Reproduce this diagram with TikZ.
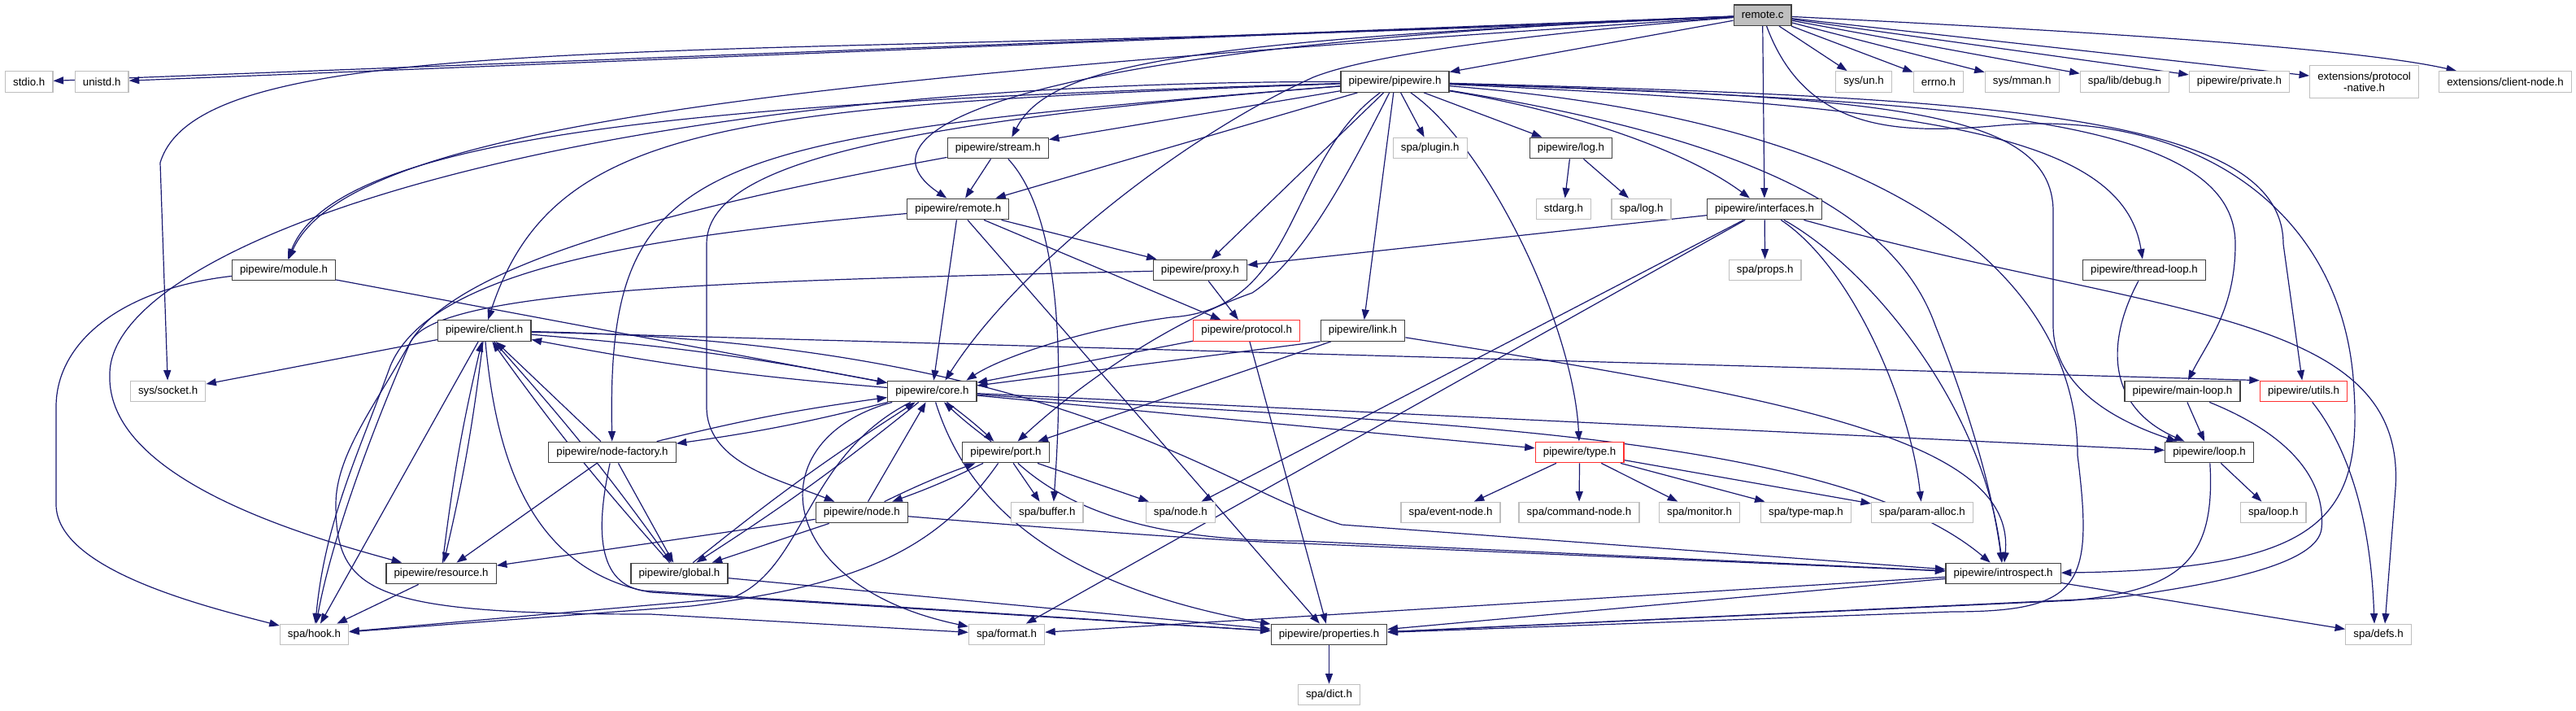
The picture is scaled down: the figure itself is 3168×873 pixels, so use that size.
\documentclass[tikz,border=0pt]{standalone}
\usepackage{fontspec}
\setmainfont{Liberation Sans}
\usetikzlibrary{arrows.meta}
\definecolor{edgeblue}{HTML}{191970}
\definecolor{docgray}{HTML}{404040}
\definecolor{extgray}{HTML}{BFBFBF}
\definecolor{redb}{HTML}{FF3030}
\definecolor{rootfill}{HTML}{BFBFBF}
\pgfdeclarelayer{background}
\pgfsetlayers{background,main}
\tikzset{
  nbase/.style={rectangle, font=\fontsize{13.3pt}{14.5pt}\selectfont, inner xsep=9.6pt, inner ysep=0pt, minimum height=25.6pt, fill=white, line width=1.25pt},
  doc/.style={nbase, draw=docgray},
  ext/.style={nbase, draw=extgray},
  trunc/.style={nbase, draw=redb},
  dep/.style={draw=edgeblue, line width=1.2pt, -{Triangle[length=12.5pt,width=9pt]}},
}
\begin{document}
\begin{tikzpicture}[x=1pt,y=-1pt]
\useasboundingbox (0,0) rectangle (3168,873);
% rank 0
\node[doc, fill=rootfill] (rc) at (2167.6,18.7) {remote.c};
% rank 1
\node[ext] (stdio) at (35.7,100.5) {stdio.h};
\node[ext] (unistd) at (125.2,100.5) {unistd.h};
\node[doc] (pw) at (1715.5,100.5) {pipewire/pipewire.h};
\node[ext] (sysun) at (2292,100.5) {sys/un.h};
\node[ext] (errno) at (2384,100.5) {errno.h};
\node[ext] (mman) at (2486.7,100.5) {sys/mman.h};
\node[ext] (debug) at (2613,100.5) {spa/lib/debug.h};
\node[ext] (private) at (2754,100.5) {pipewire/private.h};
\node[ext, minimum height=40pt, align=center] (pnative) at (2907.6,100.5) {extensions/protocol\\-native.h};
\node[ext] (cnode) at (3081,100.5) {extensions/client-node.h};
% rank 2
\node[doc] (stream) at (1227.3,182) {pipewire/stream.h};
\node[ext] (plugin) at (1758.7,182) {spa/plugin.h};
\node[doc] (log) at (1932,182) {pipewire/log.h};
% rank 3
\node[doc] (remote) at (1178.3,257) {pipewire/remote.h};
\node[ext] (stdarg) at (1923,257) {stdarg.h};
\node[ext] (spalog) at (2018.5,257) {spa/log.h};
\node[doc] (ifaces) at (2170,257) {pipewire/interfaces.h};
% rank 4
\node[doc] (module) at (349,332) {pipewire/module.h};
\node[doc] (proxy) at (1475.8,332) {pipewire/proxy.h};
\node[ext] (props) at (2170.7,332) {spa/props.h};
\node[doc] (tloop) at (2637,332) {pipewire/thread-loop.h};
% rank 5
\node[doc] (client) at (595.7,406.5) {pipewire/client.h};
\node[trunc] (protocol) at (1533.2,406.5) {pipewire/protocol.h};
\node[doc] (link) at (1676,406.5) {pipewire/link.h};
% rank 6
\node[ext] (socket) at (206.6,481) {sys/socket.h};
\node[doc] (core) at (1146.4,481) {pipewire/core.h};
\node[doc] (mloop) at (2684,481) {pipewire/main-loop.h};
\node[trunc] (utils) at (2833,481) {pipewire/utils.h};
% rank 7
\node[doc] (nfactory) at (753,556) {pipewire/node-factory.h};
\node[doc] (port) at (1237,556) {pipewire/port.h};
\node[trunc] (type) at (1942.6,556) {pipewire/type.h};
\node[doc] (loop) at (2717,556) {pipewire/loop.h};
% rank 8
\node[doc] (node) at (1059.7,630) {pipewire/node.h};
\node[ext] (buffer) at (1287.8,630) {spa/buffer.h};
\node[ext] (spanode) at (1451.8,630) {spa/node.h};
\node[ext] (evnode) at (1784,630) {spa/event-node.h};
\node[ext] (cmdnode) at (1942,630) {spa/command-node.h};
\node[ext] (monitor) at (2090,630) {spa/monitor.h};
\node[ext] (typemap) at (2221,630) {spa/type-map.h};
\node[ext] (palloc) at (2364,630) {spa/param-alloc.h};
\node[ext] (spaloop) at (2795.7,630) {spa/loop.h};
% rank 9
\node[doc] (resource) at (542.6,705) {pipewire/resource.h};
\node[doc] (global) at (835.5,705) {pipewire/global.h};
\node[doc] (intro) at (2463.6,705) {pipewire/introspect.h};
% rank 10
\node[ext] (hook) at (386.5,780) {spa/hook.h};
\node[ext] (format) at (1238,780) {spa/format.h};
\node[doc] (props2) at (1634.5,780) {pipewire/properties.h};
\node[ext] (defs) at (2925,780) {spa/defs.h};
% rank 11
\node[ext] (dict) at (1634.5,854) {spa/dict.h};

\begin{pgfonlayer}{background}
% remote.c
\draw[dep] (rc) -- (stdio);
\draw[dep] (rc) -- (unistd);
\draw[dep] (rc) .. controls (900,80) and (250,25) .. (197,200) -- (socket);
\draw[dep] (rc) .. controls (1000,95) and (430,150) .. (module);
\draw[dep] (rc) .. controls (1250,55) and (1040,160) .. ([xshift=-14pt]remote.north);
\draw[dep] (rc) .. controls (1450,50) and (1290,80) .. ([xshift=17pt]stream.north);
\draw[dep] (rc) -- (pw);
\draw[dep] (rc) .. controls (1900,40) and (1690,65) .. (1615,95) .. controls (1450,170) and (1250,330) .. ([xshift=16pt]core.north);
\draw[dep] (rc) -- (ifaces);
\draw[dep] (rc) -- (sysun);
\draw[dep] (rc) -- (errno);
\draw[dep] (rc) -- (mman);
\draw[dep] (rc) -- (debug);
\draw[dep] (rc) -- (private);
\draw[dep] (rc) -- (pnative);
\draw[dep] (rc) .. controls (2600,40) and (2900,60) .. (cnode);
\draw[dep] (rc) .. controls (2220,160) and (2330,165) .. (2450,155) .. controls (2700,130) and (2885,260) .. (2895,480) .. controls (2905,640) and (2850,700) .. (intro);
% pipewire.h
\draw[dep] (pw) .. controls (900,125) and (415,160) .. (module);
\draw[dep] (pw) .. controls (900,130) and (680,150) .. (client);
\draw[dep] (pw) -- (stream);
\draw[dep] (pw) -- (remote);
\draw[dep] (pw) .. controls (1580,200) and (1600,380) .. (1440,390) .. controls (1330,405) and (1230,440) .. ([xshift=42pt]core.north);
\draw[dep] (pw) -- (proxy);
\draw[dep] (pw) .. controls (850,170) and (746,190) .. (nfactory);
\draw[dep] (pw) .. controls (1100,150) and (869,200) .. (869,300) -- (869,500) .. controls (869,570) and (960,590) .. (node);
\draw[dep] (pw) .. controls (1650,230) and (1600,320) .. (1540,360) .. controls (1440,395) and (1330,470) .. (port);
\draw[dep] (pw) -- (link);
\draw[dep] (pw) -- (plugin);
\draw[dep] (pw) -- (log);
\draw[dep] (pw) .. controls (1950,140) and (2080,190) .. (ifaces);
\draw[dep] (pw) .. controls (1830,180) and (1935,400) .. (type);
\draw[dep] (pw) .. controls (2150,170) and (2330,260) .. (2380,400) .. controls (2420,500) and (2450,600) .. (intro);
\draw[dep] (pw) .. controls (2350,150) and (2555,350) .. (2555,560) .. controls (2575,720) and (2560,752) .. (2400,752) -- (props2);
\draw[dep] (pw) .. controls (2300,120) and (2525,130) .. (2525,260) -- (2525,400) .. controls (2525,480) and (2610,520) .. (loop);
\draw[dep] (pw) .. controls (2350,130) and (2610,160) .. (tloop);
\draw[dep] (pw) .. controls (2400,125) and (2749,140) .. (2749,300) .. controls (2749,380) and (2715,420) .. (mloop);
\draw[dep] (pw) .. controls (2450,120) and (2808,140) .. (2808,300) -- (utils);
\draw[dep] (pw) .. controls (700,100) and (135,300) .. (135,460) .. controls (130,590) and (380,660) .. (resource);
% stream.h
\draw[dep] (stream) -- (remote);
\draw[dep] (stream) .. controls (1300,260) and (1310,420) .. ([xshift=8pt]buffer.north);
\draw[dep] (stream) .. controls (800,260) and (560,330) .. (505,420) .. controls (460,500) and (413,560) .. (413,620) .. controls (413,730) and (460,755) .. (800,755) -- (format);
% remote.h
\draw[dep] (remote) -- (core);
\draw[dep] (remote) -- (proxy);
\draw[dep] (remote) -- (protocol);
\draw[dep] (remote) -- (props2);
\draw[dep] (remote) .. controls (800,290) and (530,330) .. (480,450) .. controls (440,560) and (400,640) .. (hook);
% log.h
\draw[dep] (log) -- (stdarg);
\draw[dep] (log) -- (spalog);
% interfaces.h
\draw[dep] (ifaces) -- (proxy);
\draw[dep] (ifaces) -- (props);
\draw[dep] (ifaces) -- (spanode);
\draw[dep] (ifaces) -- (format);
\draw[dep] (ifaces) .. controls (2300,330) and (2440,500) .. (intro);
\draw[dep] (ifaces) .. controls (2280,330) and (2350,500) .. (palloc);
\draw[dep] (ifaces) .. controls (2650,390) and (2960,380) .. (2946,600) -- ([xshift=8pt]defs.north);
% module.h
\draw[dep] (module) -- (core);
\draw[dep] (module) .. controls (150,355) and (69,420) .. (69,500) -- (69,620) .. controls (69,700) and (250,745) .. (hook);
% proxy.h
\draw[dep] (proxy) -- (protocol);
\draw[dep] (proxy) .. controls (900,345) and (540,355) .. (505,420) .. controls (470,500) and (410,650) .. (hook);
% protocol.h
\draw[dep] (protocol) -- (core);
\draw[dep] (protocol) -- (props2);
% link.h
\draw[dep] (link.south west) -- (core);
\draw[dep] (link) -- (port);
\draw[dep] (link) .. controls (2200,490) and (2480,540) .. (intro);
% client.h
\draw[dep] (client) -- (socket);
\draw[dep] (client) to[bend left=3] (core);
\draw[dep] (client) to[bend left=3] (resource);
\draw[dep] (client) to[bend left=3] (global);
\draw[dep] (client) -- (hook);
\draw[dep] (client) .. controls (610,560) and (650,700) .. (800,728) -- (props2);
\draw[dep] (client) .. controls (1300,420) and (1500,600) .. (1650,645) -- (intro);
\draw[dep] (client) -- (utils.north west);
% core.h
\draw[dep] (core) to[bend left=3] (client);
\draw[dep] (core) to[bend left=3] (nfactory);
\draw[dep] (core) to[bend left=3] (global);
\draw[dep] (core) to[bend left=3] (port);
\draw[dep] (core) -- (type);
\draw[dep] (core) -- (loop);
\draw[dep] (core) .. controls (1700,520) and (2250,525) .. (intro);
\draw[dep] (core) .. controls (930,540) and (950,720) .. (format);
\draw[dep] (core) .. controls (990,560) and (990,700) .. (900,735) -- (hook);
\draw[dep] (core) .. controls (1190,620) and (1300,720) .. (props2);
% loops
\draw[dep] (tloop) .. controls (2590,420) and (2590,500) .. (loop);
\draw[dep] (mloop) -- (loop);
\draw[dep] (mloop) .. controls (2830,540) and (2860,600) .. (2855,650) .. controls (2850,690) and (2750,715) .. (2600,735) -- (props2);
\draw[dep] (loop) -- (spaloop);
\draw[dep] (loop) .. controls (2725,690) and (2680,725) .. (2550,738) -- (props2);
\draw[dep] (utils) .. controls (2880,540) and (2915,620) .. ([xshift=-5pt]defs.north);
% node-factory.h
\draw[dep] (nfactory) to[bend left=3] (core);
\draw[dep] (nfactory) -- (resource);
\draw[dep] (nfactory) -- (global);
\draw[dep] (nfactory) -- (client);
\draw[dep] (nfactory) .. controls (735,640) and (730,715) .. (790,726) -- (props2);
% port.h
\draw[dep] (port) to[bend left=3] (core);
\draw[dep] (port) to[bend left=3] (node);
\draw[dep] (port) -- (buffer);
\draw[dep] (port) -- (spanode);
\draw[dep] (port) .. controls (1330,640) and (1450,665) .. (1600,665) -- (intro);
\draw[dep] (port) .. controls (1150,680) and (1050,720) .. (850,745) -- (hook);
% node.h
\draw[dep] (node) -- (core);
\draw[dep] (node) to[bend left=3] (port);
\draw[dep] (node) -- (global);
\draw[dep] (node) -- (resource);
\draw[dep] (node) .. controls (1300,650) and (1500,665) .. (1600,668) -- (intro);
% type.h
\draw[dep] (type) -- (evnode);
\draw[dep] (type) -- (cmdnode);
\draw[dep] (type) -- (monitor);
\draw[dep] (type) -- (typemap);
\draw[dep] (type) -- (palloc);
% resource.h, global.h
\draw[dep] (resource) to[bend left=3] (client);
\draw[dep] (resource) -- (hook);
\draw[dep] (global) to[bend left=3] (client);
\draw[dep] (global) to[bend left=3] (core);
\draw[dep] (global) -- (props2);
% introspect.h, properties.h
\draw[dep] (intro) -- (format);
\draw[dep] (intro) -- (props2);
\draw[dep] (intro) -- (defs);
\draw[dep] (props2) -- (dict);
\end{pgfonlayer}
\end{tikzpicture}
\end{document}
